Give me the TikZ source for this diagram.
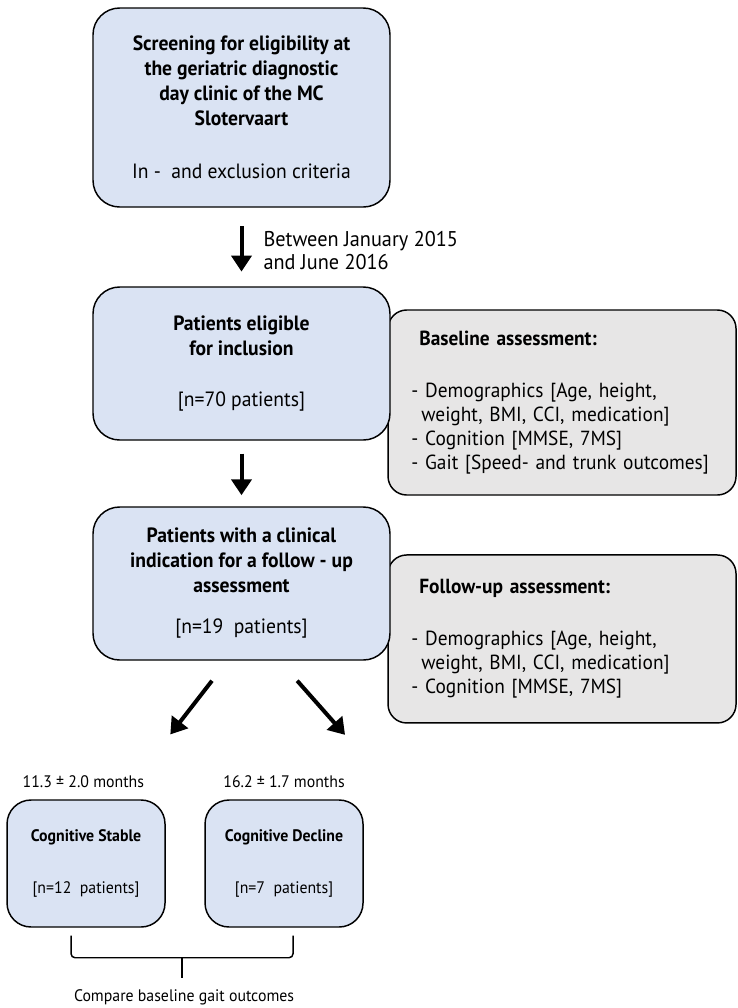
\documentclass[tikz,border=0pt]{standalone}
\usepackage{fontspec}
\setmainfont[FakeStretch=0.95]{PT Sans}
\usetikzlibrary{positioning,arrows.meta,calc}
\definecolor{boxblue}{HTML}{DAE3F3}
\definecolor{boxgrey}{HTML}{E7E6E6}
\pgfdeclarelayer{back}
\pgfsetlayers{back,main}

\begin{document}
\begin{tikzpicture}[%
    x=0.75pt, y=-0.75pt,          % work in pixels of the layout
    node distance=192pt and 240pt, % Global setup of box spacing
    ]
% -------------------------------------------------
% Box and line styles
\tikzset{
  node font=\fontsize{15.5}{18.75}\selectfont,
  base/.style={draw=black, line width=1.1pt, align=center, inner sep=0pt, on grid},
  stage/.style={base, fill=boxblue, font=\bfseries, rounded corners=20pt, minimum width=222.75pt, minimum height=114.75pt},
  group/.style={base, fill=boxblue, node font=\fontsize{12.5}{18.75}\selectfont, font=\bfseries, rounded corners=18pt, minimum width=118.5pt, minimum height=95.25pt},
  assess/.style={base, fill=boxgrey, node font=\fontsize{15.3}{18}\selectfont, rounded corners=14pt, align=left, text width=226pt, inner xsep=17.5pt, minimum width=261pt},
  note/.style={inner sep=0pt, align=left, node font=\fontsize{12.5}{17.5}\selectfont},
  period/.style={note, node font=\fontsize{16}{17.25}\selectfont},
  flow/.style={draw, line width=3pt, -{Triangle[width=15pt,length=12pt]}},
  brace/.style={draw, line width=1.1pt, rounded corners=3pt},
}
\useasboundingbox (0,0) rectangle (738,1008);
% -------------------------------------------------
% Main column
\node [stage, minimum height=149.25pt] (screen) at (241.5,107.5)
  {Screening for eligibility at\\ the geriatric diagnostic\\ day clinic of the MC\\ Slotervaart\\[21pt]
   \mdseries In -\ \ and exclusion criteria};
\node [stage, below=of screen] (elig)
  {Patients eligible\\ for inclusion\\[19.75pt] \mdseries [n=70 patients]};
\node [stage, below=165pt of elig] (followup)
  {Patients with a clinical\\ indication for a follow - up\\ assessment\\[12pt] \mdseries [n=19\ \ patients]};
% -------------------------------------------------
% Outcome groups
\node [group, below left=210pt and 116.6pt of followup] (stable)
  {Cognitive Stable\\[19.75pt] \mdseries [n=12\ \ patients]};
\node [group, below right=210pt and 31.9pt of followup] (decline)
  {Cognitive Decline\\[19.75pt] \mdseries [n=7\ \ patients]};
% -------------------------------------------------
% Assessment boxes sit behind the main column
\begin{pgfonlayer}{back}
\node [assess, minimum height=138.75pt, below right=29.25pt and 240.4pt of elig] (baseline)
  {\hspace*{6pt}\textbf{Baseline assessment:}\\[21pt]
   - Demographics [Age, height,\\
   \hspace*{7.5pt}weight, BMI, CCI, medication]\\
   - Cognition [MMSE, 7MS]\\
   - Gait [Speed- and trunk outcomes]};
\node [assess, minimum height=126pt, below right=41.6pt and 240.4pt of followup] (followass)
  {\hspace*{6pt}\textbf{Follow-up assessment:}\\[21pt]
   - Demographics [Age, height,\\
   \hspace*{7.5pt}weight, BMI, CCI, medication]\\
   - Cognition [MMSE, 7MS]};
\end{pgfonlayer}
% -------------------------------------------------
% Arrows
\draw [flow, shorten <=14pt, shorten >=11pt] (screen) --
  node [period, pos=0.55, right=15pt] {Between January 2015\\ and June 2016} (elig);
\draw [flow, shorten <=9.75pt, shorten >=8.25pt] (elig) -- (followup);
\draw [flow, shorten <=19pt, shorten >=61.5pt]
  ([xshift=-10.5pt]followup.south) -- ([xshift=25.5pt]stable.north);
\draw [flow, shorten <=20pt, shorten >=64.5pt]
  ([xshift=28.5pt]followup.south) -- ([xshift=88.5pt]decline.north);
% -------------------------------------------------
% Follow-up intervals
\node [note] (monthsA) at ([xshift=-2pt,yshift=13.5pt]stable.north) {11.3 ± 2.0 months};
\node [note] (monthsB) at ([yshift=13.5pt]decline.north) {16.2 ± 1.7 months};
% -------------------------------------------------
% Brace joining both groups
\coordinate (braceL) at ([xshift=-11.25pt,yshift=-6pt]stable.south);
\coordinate (braceR) at ([xshift=6.75pt,yshift=-6pt]decline.south);
\coordinate (braceM) at ($(braceL)!0.5!(braceR)+(0,-16.5pt)$);
\draw [brace] (braceL) |- (braceM) -| (braceR);
\draw [brace] (braceM) -- ++(0,-15pt);
\node [note] (compare) at ($(braceM)+(1.5pt,-30pt)$) {Compare baseline gait outcomes};
\end{tikzpicture}
\end{document}
